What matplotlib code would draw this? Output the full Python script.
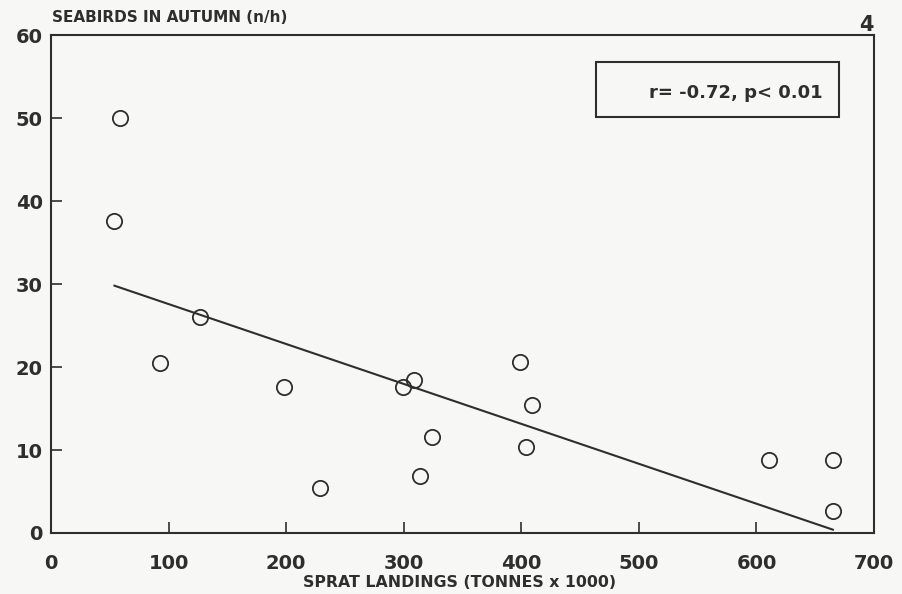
import matplotlib
matplotlib.use("Agg")
import matplotlib.pyplot as plt
from matplotlib.patches import Rectangle

# sprat landings (tonnes x 1000) vs seabirds in autumn (n/h)
landings = [59, 54, 127, 93, 198, 229, 299, 309, 324, 314, 399, 409, 404, 611, 665, 665]
seabirds = [50.0, 37.6, 26.0, 20.5, 17.6, 5.4, 17.6, 18.4, 11.6, 6.9, 20.6, 15.4, 10.4, 8.8, 8.8, 2.7]

# regression line end points
fit_x = [54, 665]
fit_y = [29.8, 0.4]

xticks = [0, 100, 200, 300, 400, 500, 600, 700]
yticks = [0, 10, 20, 30, 40, 50, 60]

ink = "#2e2e2e"
paper = "#f7f7f5"
plt.rcParams['font.family'] = ['DejaVu Sans']

fig = plt.figure(figsize=(9.02, 5.94), dpi=100, facecolor=paper)
ax = fig.add_axes([0.0565, 0.1027, 0.9125, 0.8383], facecolor=paper)

ax.plot(fit_x, fit_y, color=ink, lw=1.5)
ax.plot(landings, seabirds, 'o', mfc='none', mec=ink, mew=1.3, ms=11)

ax.set_xlim(0, 700)
ax.set_ylim(0, 60)
ax.set_xticks(xticks)
ax.set_yticks(yticks)
ax.tick_params(direction='in', length=8, width=1.2, color=ink, labelcolor=ink,
               labelsize=14)
ax.tick_params(axis='x', pad=15)
ax.tick_params(axis='y', pad=6)
for lab in ax.get_xticklabels() + ax.get_yticklabels():
    lab.set_fontweight('bold')
for s in ax.spines.values():
    s.set_color(ink)
    s.set_linewidth(1.5)

fig.text(0.058, 0.970, "SEABIRDS IN AUTUMN (n/h)", fontsize=11,
         fontweight='bold', color=ink, ha='left', va='center')
fig.text(0.51, 0.019, "SPRAT LANDINGS (TONNES x 1000)", fontsize=11.3,
         fontweight='bold', color=ink, ha='center', va='center')
fig.text(0.961, 0.958, "4", fontsize=15, fontweight='bold', color=ink,
         ha='center', va='center')

ax.add_patch(Rectangle((0.662, 0.835), 0.295, 0.111, transform=ax.transAxes,
                       fc='none', ec=ink, lw=1.5))
ax.text(0.937, 0.884, "r= -0.72, p< 0.01", transform=ax.transAxes,
        fontsize=13, fontweight='bold', color=ink, ha='right', va='center')

fig.savefig("out.png", dpi=100, facecolor=paper)
